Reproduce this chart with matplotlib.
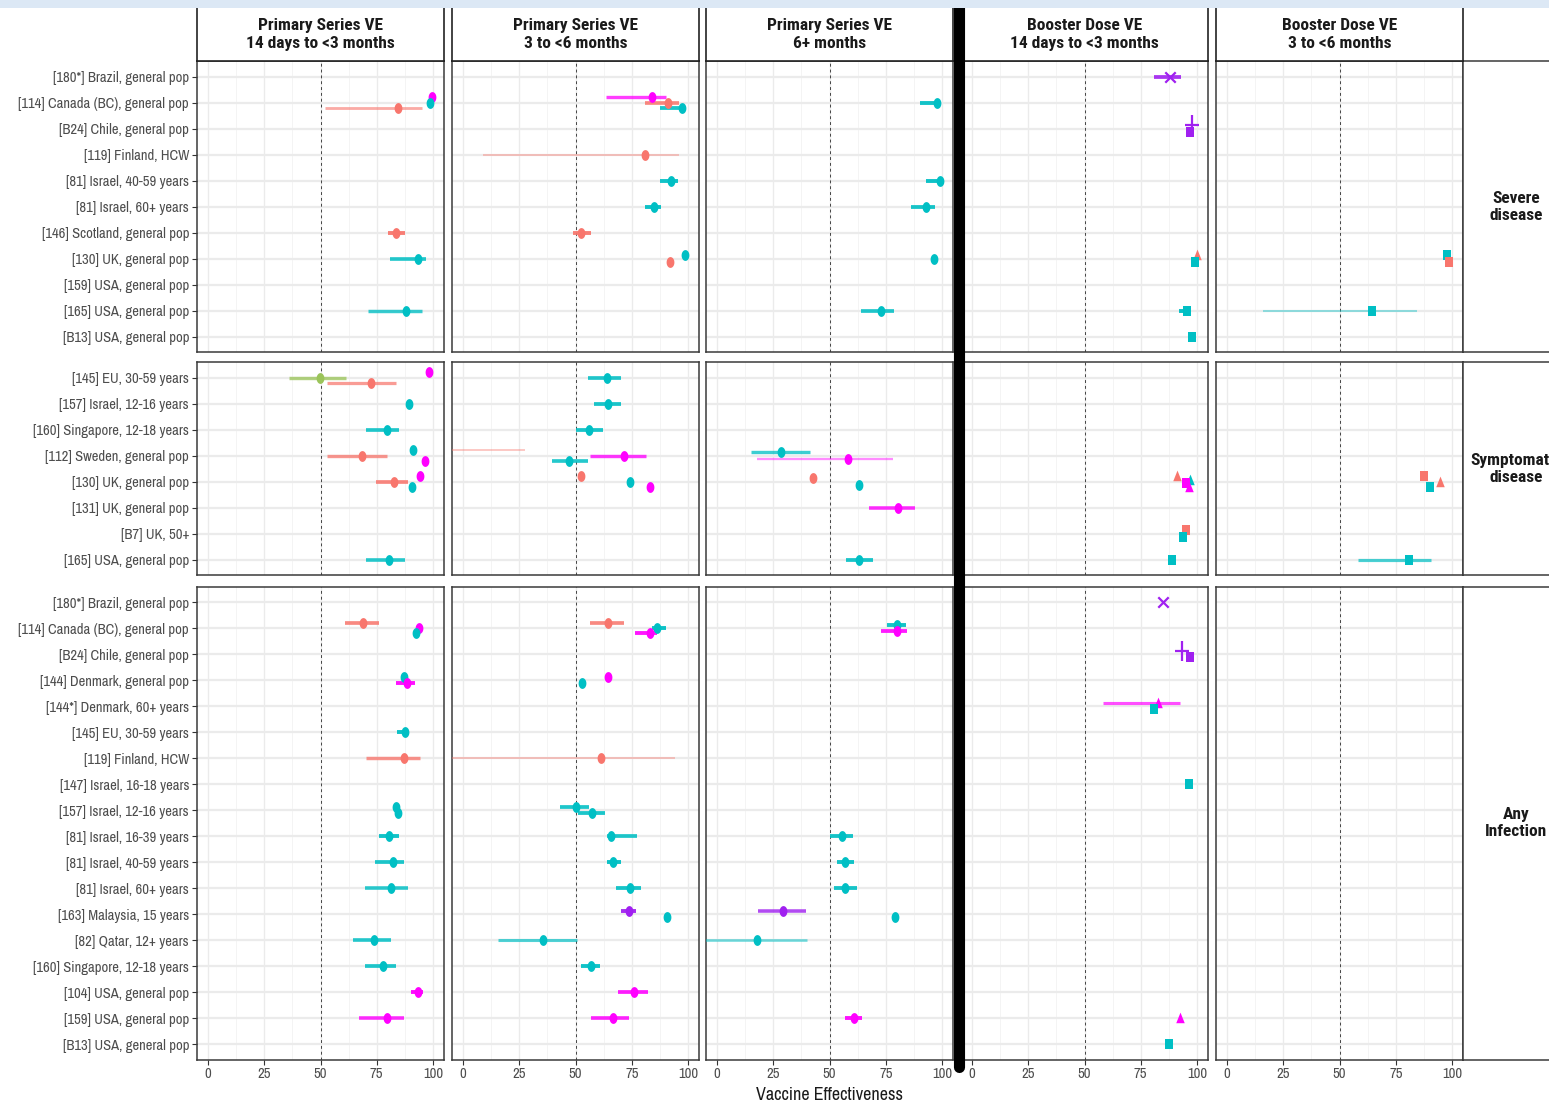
import numpy as np
import matplotlib.pyplot as plt
from matplotlib import font_manager as fm
from matplotlib.lines import Line2D
from matplotlib.patches import Rectangle
from matplotlib.path import Path

# the screenshot text is a narrow sans; use the first narrow face that is installed
cands = ['Liberation Sans Narrow', 'Arial Narrow', 'Archivo Narrow', 'Roboto Condensed',
         'PT Sans Narrow', 'Fira Sans Condensed', 'IBM Plex Sans Condensed', 'Open Sans Condensed']


def wt(f):
    return f.weight if isinstance(f.weight, int) else fm.weight_dict.get(f.weight, 400)


reg_names = {f.name for f in fm.fontManager.ttflist}
bold_names = {f.name for f in fm.fontManager.ttflist if wt(f) >= 600}
narrow = next((c for c in cands if c in reg_names), None)
narrow_b = next((c for c in cands if c in bold_names), None)
fs = 1.0 if narrow else 0.83
fsb = 1.0 if narrow_b else 0.84
plt.rcParams['font.family'] = [narrow or 'Liberation Sans', 'DejaVu Sans']
bold_family = [narrow_b or 'Liberation Sans', 'DejaVu Sans']

nan = np.nan
W, H = 1549, 1104

col_titles = ['Primary Series VE\n14 days to <3 months', 'Primary Series VE\n3 to <6 months',
              'Primary Series VE\n6+ months', 'Booster Dose VE\n14 days to <3 months',
              'Booster Dose VE\n3 to <6 months']
row_titles = ['Severe\ndisease', 'Symptomatic\ndisease', 'Any\nInfection']

severe_studies = ['[180*] Brazil, general pop', '[114] Canada (BC), general pop', '[B24] Chile, general pop',
                  '[119] Finland, HCW', '[81] Israel, 40-59 years', '[81] Israel, 60+ years',
                  '[146] Scotland, general pop', '[130] UK, general pop', '[159] USA, general pop',
                  '[165] USA, general pop', '[B13] USA, general pop']
symp_studies = ['[145] EU, 30-59 years', '[157] Israel, 12-16 years', '[160] Singapore, 12-18 years',
                '[112] Sweden, general pop', '[130] UK, general pop', '[131] UK, general pop',
                '[B7] UK, 50+', '[165] USA, general pop']
any_studies = ['[180*] Brazil, general pop', '[114] Canada (BC), general pop', '[B24] Chile, general pop',
               '[144] Denmark, general pop', '[144*] Denmark, 60+ years', '[145] EU, 30-59 years',
               '[119] Finland, HCW', '[147] Israel, 16-18 years', '[157] Israel, 12-16 years',
               '[81] Israel, 16-39 years', '[81] Israel, 40-59 years', '[81] Israel, 60+ years',
               '[163] Malaysia, 15 years', '[82] Qatar, 12+ years', '[160] Singapore, 12-18 years',
               '[104] USA, general pop', '[159] USA, general pop', '[B13] USA, general pop']

# (study index, column, vaccine, regimen, VE, lower, upper)
severe_pts = [
    (1, 0, 'mRNA', 'prim', 99.6, nan, nan), (1, 0, 'BNT', 'prim', 98.5, nan, nan),
    (1, 0, 'ChAd', 'prim', 84.5, 52, 95), (6, 0, 'ChAd', 'prim', 83.5, 80, 87.5),
    (7, 0, 'BNT', 'prim', 93.5, 81, 97), (9, 0, 'BNT', 'prim', 88, 71, 95),
    (1, 1, 'mRNA', 'prim', 84, 63.5, 90), (1, 1, 'ChAd', 'prim', 91, 81, 96),
    (1, 1, 'BNT', 'prim', 97.5, 87.5, 99), (3, 1, 'ChAd', 'prim', 81, 9, 96),
    (4, 1, 'BNT', 'prim', 92.5, 87.5, 95.5), (5, 1, 'BNT', 'prim', 85, 81, 88),
    (6, 1, 'ChAd', 'prim', 52.5, 49, 57), (7, 1, 'BNT', 'prim', 98.5, nan, nan),
    (7, 1, 'ChAd', 'prim', 92, nan, nan),
    (1, 2, 'BNT', 'prim', 97.8, 90.4, 99), (4, 2, 'BNT', 'prim', 99, 93, 100),
    (5, 2, 'BNT', 'prim', 93, 86, 97), (7, 2, 'BNT', 'prim', 96.4, nan, nan),
    (9, 2, 'BNT', 'prim', 73, 64, 78.5),
    (0, 3, 'CoV', 'bx', 88, 81, 93), (2, 3, 'CoV', 'bplus', 97.6, nan, nan),
    (2, 3, 'CoV', 'bsq', 97, nan, nan), (7, 3, 'ChAd', 'btri', 99.8, nan, nan),
    (7, 3, 'BNT', 'bsq', 99.1, nan, nan), (9, 3, 'BNT', 'bsq', 95.7, 92, 97),
    (10, 3, 'BNT', 'bsq', 97.6, nan, nan),
    (7, 4, 'BNT', 'bsq', 97.9, nan, nan), (7, 4, 'ChAd', 'bsq', 98.6, nan, nan),
    (9, 4, 'BNT', 'bsq', 64.6, 16, 84.6),
]

symp_pts = [
    (0, 0, 'mRNA', 'prim', 98, nan, nan), (0, 0, 'Ad26', 'prim', 49.6, 36, 61.5),
    (0, 0, 'ChAd', 'prim', 72.5, 53, 83.5), (1, 0, 'BNT', 'prim', 89.3, nan, nan),
    (2, 0, 'BNT', 'prim', 79.4, 70, 85), (3, 0, 'BNT', 'prim', 91, nan, nan),
    (3, 0, 'ChAd', 'prim', 68.5, 53, 79.5), (3, 0, 'mRNA', 'prim', 96.4, nan, nan),
    (4, 0, 'mRNA', 'prim', 94, nan, nan), (4, 0, 'ChAd', 'prim', 82.7, 74.5, 89),
    (4, 0, 'BNT', 'prim', 90.5, nan, nan), (7, 0, 'BNT', 'prim', 80.6, 70, 87.7),
    (0, 1, 'BNT', 'prim', 64, 55.5, 70), (1, 1, 'BNT', 'prim', 64.5, 58, 70),
    (2, 1, 'BNT', 'prim', 56.2, 50, 62), (3, 1, 'ChAd', 'prim', -20, -60, 27.5),
    (3, 1, 'mRNA', 'prim', 71.4, 56.5, 81.3), (3, 1, 'BNT', 'prim', 47, 39.5, 55.5),
    (4, 1, 'ChAd', 'prim', 52.6, nan, nan), (4, 1, 'BNT', 'prim', 74.4, nan, nan),
    (4, 1, 'mRNA', 'prim', 83.3, nan, nan),
    (3, 2, 'BNT', 'prim', 28.5, 15, 41.3), (3, 2, 'mRNA', 'prim', 58, 17.7, 78),
    (4, 2, 'ChAd', 'prim', 42.8, nan, nan), (4, 2, 'BNT', 'prim', 62.9, nan, nan),
    (5, 2, 'mRNA', 'prim', 80.5, 67.5, 88.2), (7, 2, 'BNT', 'prim', 63.2, 57.4, 69.5),
    (4, 3, 'ChAd', 'btri', 91, nan, nan), (4, 3, 'BNT', 'btri', 97, nan, nan),
    (4, 3, 'mRNA', 'bsq', 95, nan, nan), (4, 3, 'mRNA', 'btri', 96.5, nan, nan),
    (6, 3, 'ChAd', 'bsq', 95, nan, nan), (6, 3, 'BNT', 'bsq', 93.8, nan, nan),
    (7, 3, 'BNT', 'bsq', 88.7, 87, 90.5),
    (4, 4, 'ChAd', 'bsq', 87.7, nan, nan), (4, 4, 'ChAd', 'btri', 94.5, nan, nan),
    (4, 4, 'BNT', 'bsq', 90.1, nan, nan), (7, 4, 'BNT', 'bsq', 80.8, 58, 90.6),
]

any_pts = [
    (1, 0, 'ChAd', 'prim', 68.7, 61, 76), (1, 0, 'mRNA', 'prim', 93.7, nan, nan),
    (1, 0, 'BNT', 'prim', 92.5, nan, nan), (3, 0, 'BNT', 'prim', 87.1, nan, nan),
    (3, 0, 'mRNA', 'prim', 88.5, 83.7, 92), (5, 0, 'BNT', 'prim', 87.5, 84, 89.5),
    (6, 0, 'ChAd', 'prim', 87.1, 70.2, 94.4), (8, 0, 'BNT', 'prim', 83.6, nan, nan),
    (8, 0, 'BNT', 'prim', 84.5, nan, nan), (9, 0, 'BNT', 'prim', 80.6, 76.2, 84.7),
    (10, 0, 'BNT', 'prim', 82.1, 74.2, 87.1), (11, 0, 'BNT', 'prim', 81.5, 69.8, 88.7),
    (13, 0, 'BNT', 'prim', 73.8, 64.3, 81.2), (14, 0, 'BNT', 'prim', 77.6, 69.8, 83.5),
    (15, 0, 'mRNA', 'prim', 93.5, 90.1, 95.6), (16, 0, 'mRNA', 'prim', 79.4, 67.3, 87.1),
    (1, 1, 'ChAd', 'prim', 64.5, 56.5, 71.6), (1, 1, 'BNT', 'prim', 86.3, 84, 90),
    (1, 1, 'mRNA', 'prim', 83.3, 76.4, 86), (3, 1, 'mRNA', 'prim', 64.5, nan, nan),
    (3, 1, 'BNT', 'prim', 52.8, nan, nan), (6, 1, 'ChAd', 'prim', 61.5, -20, 94.2),
    (8, 1, 'BNT', 'prim', 50, 43, 56), (8, 1, 'BNT', 'prim', 57.3, 51, 63),
    (9, 1, 'BNT', 'prim', 65.7, 64, 77.4), (10, 1, 'BNT', 'prim', 66.5, 64, 70),
    (11, 1, 'BNT', 'prim', 74, 68, 79), (12, 1, 'CoV', 'prim', 73.6, 70, 77),
    (12, 1, 'BNT', 'prim', 90.5, nan, nan), (13, 1, 'BNT', 'prim', 35.5, 15.5, 50.8),
    (14, 1, 'BNT', 'prim', 57.1, 52.6, 61.1), (15, 1, 'mRNA', 'prim', 76, 68.7, 82),
    (16, 1, 'mRNA', 'prim', 66.5, 57.1, 73.6),
    (1, 2, 'BNT', 'prim', 79.8, 75.5, 84), (1, 2, 'mRNA', 'prim', 79.8, 73, 84.6),
    (9, 2, 'BNT', 'prim', 55.5, 50.2, 60.5), (10, 2, 'BNT', 'prim', 56.9, 53.3, 61),
    (11, 2, 'BNT', 'prim', 56.9, 52, 62.2), (12, 2, 'CoV', 'prim', 29.3, 18.2, 39.4),
    (12, 2, 'BNT', 'prim', 79.1, nan, nan), (13, 2, 'BNT', 'prim', 17.7, -10, 40.1),
    (16, 2, 'mRNA', 'prim', 60.8, 56.9, 64.6),
    (0, 3, 'CoV', 'bx', 85.1, nan, nan), (2, 3, 'CoV', 'bplus', 93.3, nan, nan),
    (2, 3, 'CoV', 'bsq', 96.9, nan, nan), (4, 3, 'mRNA', 'btri', 82.5, 58.4, 92.3),
    (4, 3, 'BNT', 'bsq', 80.8, nan, nan), (7, 3, 'BNT', 'bsq', 96.4, nan, nan),
    (16, 3, 'mRNA', 'btri', 92.3, nan, nan), (17, 3, 'BNT', 'bsq', 87.5, nan, nan),
]

vax_colors = {'BNT': '#00BFC4', 'mRNA': '#FF00FF', 'ChAd': '#F8766D',
              'Ad26': '#9BC45A', 'CoV': '#A020F0'}

# squeezed marker shapes (screenshot is horizontally compressed)
q = 0.72
t = np.linspace(0, 2 * np.pi, 41)
ell = Path(np.column_stack([q * np.cos(t), np.sin(t)]), closed=True)
rect = Path([(-q, -1), (q, -1), (q, 1), (-q, 1), (-q, -1)], closed=True)
tri = Path([(-q, -0.8), (q, -0.8), (0, 1), (-q, -0.8)], closed=True)
xm = Path([(-1, -1), (1, 1), (-1, 1), (1, -1)],
          [Path.MOVETO, Path.LINETO, Path.MOVETO, Path.LINETO])
plm = Path([(0, -1), (0, 1), (-q, 0), (q, 0)],
           [Path.MOVETO, Path.LINETO, Path.MOVETO, Path.LINETO])
shapes = {'prim': (ell, 7.8, True), 'bsq': (rect, 7.8, True), 'btri': (tri, 8.5, True),
          'bx': (xm, 7.5, False), 'bplus': (plm, 14, False)}

fig = plt.figure(figsize=(W / 100, H / 100), dpi=100)


def fig_axes(left, top, width, height):
    return fig.add_axes([left / W, 1 - (top + height) / H, width / W, height / H])


col_left = [196.75, 451.75, 705.75, 960.75, 1215.75]
col_w = 247.5
unit = 26.0
row_top = [61.0, 362.0, 586.5]
rows = [(severe_studies, severe_pts), (symp_studies, symp_pts), (any_studies, any_pts)]
edge = '#3a3a3a'

for r, (studies, pts) in enumerate(rows):
    n = len(studies)
    ph = (n - 1 + 1.2) * unit
    for c in range(5):
        ax = fig_axes(col_left[c], row_top[r], col_w, ph)
        ax.set_xlim(-5, 105)
        ax.set_ylim(n - 1 + 0.6, -0.6)
        ax.set_xticks([0, 25, 50, 75, 100])
        ax.set_xticks([12.5, 37.5, 62.5, 87.5], minor=True)
        ax.set_yticks(range(n))
        ax.grid(True, which='major', axis='x', color='#EBEBEB', lw=1.0)
        ax.grid(True, which='minor', axis='x', color='#F3F3F3', lw=0.6)
        ax.grid(True, which='major', axis='y', color='#EBEBEB', lw=1.6)
        ax.set_axisbelow(True)
        ax.axvline(50, color='#444444', lw=0.7, ls=(0, (3, 3)), zorder=1.5)
        for s in ax.spines.values():
            s.set_color(edge)
            s.set_linewidth(1.1)
        ax.tick_params(axis='both', which='minor', length=0)
        ax.tick_params(axis='both', which='major', color='#333333', width=0.8, length=3.5,
                       labelcolor='#4D4D4D', labelsize=10.5 * fs, pad=2)
        if c == 0:
            ax.set_yticklabels(studies)
        else:
            ax.tick_params(axis='y', length=0, labelleft=False)
        if r < 2:
            ax.tick_params(axis='x', length=0, labelbottom=False)

        cell = [p for p in pts if p[1] == c]
        for k in range(n):
            grp = [p for p in cell if p[0] == k]
            m = len(grp)
            if m == 0:
                continue
            offs = [0.0] if m == 1 else ([-0.12, 0.12] if m == 2 else np.linspace(-0.2, 0.2, m))
            for p, o in zip(grp, offs):
                _, _, vax, reg, est, lo, hi = p
                col = vax_colors[vax]
                y = k + o
                if not np.isnan(lo):
                    wdt = hi - lo
                    a = float(np.clip(1.0 - wdt / 110, 0.4, 0.95))
                    lw = float(np.clip(3.0 - wdt / 45, 1.4, 2.8))
                    ax.plot([lo, hi], [y, y], color=col, alpha=a, lw=lw,
                            solid_capstyle='butt', zorder=3)
                mk, ms, filled = shapes[reg]
                if filled:
                    ax.plot([est], [y], marker=mk, ms=ms, color=col, mew=0, ls='none', zorder=4)
                else:
                    ax.plot([est], [y], marker=mk, ms=ms, color=col, mec=col, mew=1.6,
                            ls='none', zorder=4)

    # right strip
    sx = fig_axes(1463.25, row_top[r], 120, ph)
    sx.set_xticks([]); sx.set_yticks([])
    for nm, s in sx.spines.items():
        s.set_color(edge)
        s.set_linewidth(1.1)
    sx.spines['right'].set_visible(False)
    fig.text(1516 / W, 1 - (row_top[r] + ph / 2) / H, row_titles[r], ha='center', va='center',
             fontsize=12.5 * fsb, fontweight='bold', family=bold_family, color='#1A1A1A',
             linespacing=1.15)

# column header strips
for c in range(5):
    hx = fig_axes(col_left[c], 8, col_w, 53)
    hx.set_xticks([]); hx.set_yticks([])
    for nm, s in hx.spines.items():
        s.set_color('#222222')
        s.set_linewidth(1.2)
    hx.spines['top'].set_visible(False)
    hx.text(0.5, 0.5, col_titles[c], transform=hx.transAxes, ha='center', va='center',
            fontsize=12.5 * fsb, fontweight='bold', family=bold_family, color='#1A1A1A',
            linespacing=1.2)

fig.text(830 / W, 1 - 1095 / H, 'Vaccine Effectiveness', ha='center', va='center',
         fontsize=13 * fs, color='#1A1A1A')

# hand-drawn black separator and page band
fig.add_artist(Line2D([959 / W, 959 / W], [1 - 4 / H, 1 - 1067 / H], transform=fig.transFigure,
                      color='black', lw=8, solid_capstyle='round', zorder=20))
fig.add_artist(Rectangle((0, 1 - 8 / H), 1, 8 / H, transform=fig.transFigure,
                         facecolor='#DCE8F5', edgecolor='none', zorder=30))

fig.savefig('out.png', dpi=100)
